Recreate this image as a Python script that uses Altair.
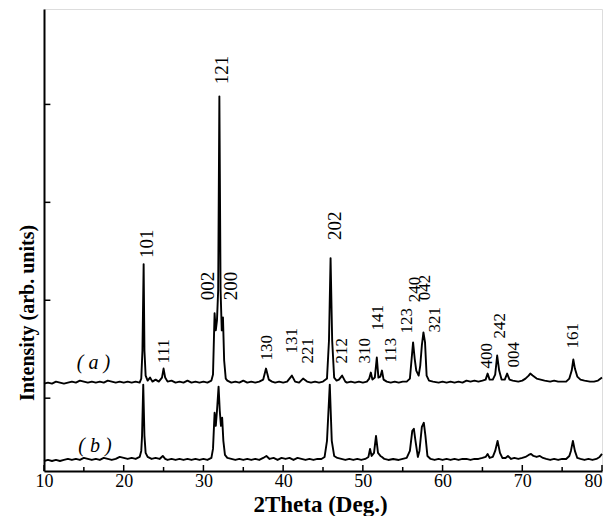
import altair as alt
import pandas as pd

# ---------------- data ----------------
# trace (a) : 2theta and intensity (arbitrary units, offset)
a_x = [10.0, 10.5, 11.0, 11.5, 12.0, 12.5, 13.0, 13.5, 14.0, 14.5, 15.0, 15.5, 16.0, 16.5, 17.0, 17.5,
       18.0, 18.5, 19.0, 19.5, 20.0, 20.5, 21.0, 21.5, 22.0, 22.2, 22.35, 22.5, 22.6, 22.75, 23.0, 23.3,
       23.6, 24.0, 24.4, 24.8, 25.0, 25.2, 25.5, 26.0, 26.5, 27.0, 27.5, 28.0, 28.5, 29.0, 29.5, 30.0,
       30.5, 31.0, 31.2, 31.4, 31.55, 31.7, 31.85, 32.0, 32.15, 32.3, 32.45, 32.6, 32.8, 33.0, 33.5,
       34.0, 34.5, 35.0, 35.5, 36.0, 36.5, 37.0, 37.5, 37.85, 38.2, 38.6, 39.0, 39.5, 40.0, 40.5, 41.1,
       41.5, 42.0, 42.5, 43.0, 43.5, 44.0, 44.5, 45.0, 45.5, 45.75, 45.95, 46.15, 46.4, 46.7, 47.0,
       47.4, 47.8, 48.0, 48.5, 49.0, 49.5, 50.0, 50.5, 50.8, 51.0, 51.2, 51.5, 51.75, 51.95, 52.2,
       52.4, 52.6, 53.0, 53.5, 54.0, 54.5, 55.0, 55.5, 55.9, 56.1, 56.3, 56.5, 56.7, 57.0, 57.2, 57.4,
       57.6, 57.8, 58.0, 58.3, 58.8, 59.5, 60.0, 60.5, 61.0, 61.5, 62.0, 62.5, 63.0, 63.5, 64.0, 64.5,
       65.0, 65.4, 65.65, 65.9, 66.3, 66.6, 66.85, 67.1, 67.4, 67.8, 68.1, 68.4, 68.8, 69.5, 70.0,
       70.4, 70.8, 71.0, 71.3, 71.8, 72.3, 72.8, 73.5, 74.0, 74.5, 75.0, 75.5, 75.9, 76.2, 76.4, 76.6,
       76.9, 77.3, 77.8, 78.5, 79.0, 79.5, 80.0]
a_y = [87, 88, 87, 89, 88, 87, 88, 89, 88, 90, 89, 88, 89, 88, 89, 88,
       90, 89, 88, 89, 88, 89, 88, 89, 88, 92, 120, 206, 120, 95, 90, 93,
       89, 91, 89, 93, 102, 93, 89, 90, 88, 89, 88, 90, 88, 89, 88, 89,
       88, 90, 96, 157, 140, 150, 180, 373, 180, 140, 153, 110, 92, 90, 88,
       89, 88, 90, 88, 89, 88, 89, 91, 102, 91, 89, 88, 89, 88, 89, 95,
       89, 88, 92, 89, 88, 89, 88, 89, 92, 130, 212, 130, 93, 90, 91,
       95, 89, 88, 89, 88, 89, 88, 89, 92, 98, 91, 93, 113, 93, 94,
       100, 91, 89, 88, 89, 88, 89, 89, 92, 110, 128, 112, 100, 95, 105, 125,
       138, 128, 95, 90, 89, 88, 89, 88, 89, 88, 89, 88, 90, 89, 90, 89,
       90, 91, 97, 91, 91, 96, 115, 100, 91, 91, 97, 91, 90, 89, 90,
       92, 95, 97, 95, 92, 91, 90, 89, 90, 89, 89, 89, 92, 100, 111, 102,
       94, 91, 90, 89, 89, 90, 93]

# trace (b)
b_x = [10.0, 10.5, 11.0, 11.5, 12.0, 12.5, 13.0, 13.5, 14.0, 14.5, 15.0, 15.5, 16.0, 16.5, 17.0, 17.5,
       18.0, 18.5, 19.0, 19.5, 20.0, 20.5, 21.0, 21.5, 22.0, 22.2, 22.3, 22.45, 22.6, 22.75, 23.0, 23.5,
       24.0, 24.5, 24.9, 25.2, 25.5, 26.0, 26.5, 27.0, 27.5, 28.0, 28.5, 29.0, 29.5, 30.0, 30.5, 31.0,
       31.2, 31.4, 31.55, 31.7, 31.9, 32.05, 32.2, 32.35, 32.5, 32.7, 33.0, 33.5, 34.0, 34.5, 35.0,
       35.5, 36.0, 36.5, 37.0, 37.5, 37.9, 38.3, 38.8, 39.3, 39.8, 40.3, 40.8, 41.3, 41.8, 42.3, 42.8,
       43.3, 43.8, 44.3, 44.8, 45.2, 45.5, 45.85, 46.1, 46.4, 46.8, 47.3, 47.8, 48.3, 48.8, 49.3, 49.8,
       50.3, 50.7, 50.9, 51.1, 51.4, 51.65, 51.9, 52.2, 52.4, 52.7, 53.2, 53.8, 54.5, 55.0, 55.5, 55.9,
       56.2, 56.4, 56.6, 56.9, 57.1, 57.4, 57.65, 57.85, 58.1, 58.5, 59.0, 59.5, 60.0, 60.5, 61.0, 61.5,
       62.0, 62.5, 63.0, 63.5, 64.0, 64.5, 65.0, 65.4, 65.65, 65.9, 66.3, 66.6, 66.9, 67.2, 67.5, 67.9,
       68.2, 68.6, 69.0, 69.5, 70.0, 70.4, 70.8, 71.1, 71.4, 71.8, 72.2, 72.6, 73.0, 73.5, 74.0, 74.5,
       75.0, 75.5, 75.9, 76.1, 76.35, 76.6, 76.9, 77.3, 77.8, 78.3, 78.8, 79.3, 79.7, 80.0]
b_y = [10, 11, 10, 11, 10, 11, 12, 11, 12, 11, 13, 12, 11, 12, 11, 13,
       12, 11, 12, 14, 13, 12, 13, 12, 14, 20, 35, 86, 35, 18, 14, 12,
       13, 12, 15, 12, 11, 12, 11, 12, 11, 12, 11, 12, 11, 12, 11, 13,
       22, 58, 45, 60, 84, 60, 45, 53, 30, 16, 13, 12, 11, 12, 11,
       12, 11, 12, 11, 13, 15, 12, 13, 11, 13, 12, 13, 11, 13, 12, 11,
       12, 11, 12, 12, 14, 30, 86, 30, 15, 13, 12, 11, 12, 11, 12, 11,
       12, 14, 22, 15, 18, 35, 18, 15, 14, 12, 11, 12, 11, 12, 13, 20,
       40, 42, 30, 14, 20, 44, 48, 35, 15, 12, 11, 12, 11, 12, 11, 12,
       11, 12, 12, 11, 12, 12, 13, 14, 17, 13, 14, 20, 30, 18, 13, 13,
       15, 12, 13, 12, 13, 14, 16, 17, 15, 14, 15, 13, 12, 11, 12, 11,
       12, 12, 15, 20, 30, 20, 13, 12, 11, 12, 11, 12, 14, 17]

# Miller-index peak labels (anchor = bottom of the upright text)
big_labels = ["101", "121", "002", "200", "202"]
big_label_x = [22.9, 32.3, 30.6, 33.45, 46.5]
big_label_y = [212, 385, 170, 170, 230]

small_labels = ["111", "130", "131", "221", "212", "310", "141", "113", "123",
                "240", "042", "321", "400", "242", "004", "161"]
small_label_x = [25.06, 37.98, 41.12, 43.12, 47.39, 50.28, 51.91, 53.54, 55.55,
                 56.55, 57.81, 59.06, 65.58, 67.21, 68.97, 76.37]
small_label_y = [107, 110, 117, 107, 107, 107, 140, 108, 137,
                 168, 170, 138, 102, 132, 103, 122]

trace_names = ["( a )", "( b )"]
trace_name_x = [16.2, 16.4]
trace_name_y = [108, 25]

x_tick_values = [10, 20, 30, 40, 50, 60, 70, 80]
x_minor_ticks = [15, 25, 35, 45, 55, 65, 75]
y_tick_values = [72.5, 170, 267.5, 365]

x_title = "2Theta (Deg.)"
y_title = "Intensity (arb. units)"

# ---------------- chart ----------------
FONT = "Liberation Serif"
W, H = 558, 462
xs = alt.Scale(domain=[10, 80], nice=False, zero=False)
ys = alt.Scale(domain=[0, 460], nice=False, zero=False)

x_axis = alt.Axis(values=x_tick_values, format="d", grid=False, ticks=False, tickSize=0,
                  labelFont=FONT, labelFontSize=18, labelColor="black", labelPadding=1,
                  labelFlush=False,
                  labelAlign=alt.expr("datum.value == 80 ? 'right' : 'center'"),
                  domain=True, domainColor="black", domainWidth=2,
                  title=x_title, titleFont=FONT, titleFontSize=23, titleFontWeight="bold",
                  titleColor="black", titleX=276, titleY=40, titleAlign="center",
                  titleBaseline="alphabetic")
y_axis = alt.Axis(labels=False, ticks=False, tickSize=0, grid=False,
                  domain=True, domainColor="black", domainWidth=2, title=None)


def X(field="x"):
    return alt.X(f"{field}:Q", scale=xs, axis=x_axis)


def Y(field="y"):
    return alt.Y(f"{field}:Q", scale=ys, axis=y_axis)


traces = pd.concat([
    pd.DataFrame({"x": a_x, "y": a_y, "series": "a", "i": range(len(a_x))}),
    pd.DataFrame({"x": b_x, "y": b_y, "series": "b", "i": range(len(b_x))}),
])

lines = alt.Chart(traces).mark_line(color="black", strokeWidth=1.9, strokeJoin="round").encode(
    x=X(), y=Y(), detail="series:N", order="i:Q")

xt = pd.DataFrame({"x": x_tick_values + x_minor_ticks, "y": 0,
                   "y2": [6] * len(x_tick_values) + [4] * len(x_minor_ticks)})
x_ticks = alt.Chart(xt).mark_rule(color="black", strokeWidth=1.5).encode(
    x=X(), y=Y(), y2="y2:Q")

yt = pd.DataFrame({"y": y_tick_values, "x": 10, "x2": 10.8})
y_ticks = alt.Chart(yt).mark_rule(color="black", strokeWidth=1.5).encode(
    x=X(), x2="x2:Q", y=Y())

big_df = pd.DataFrame({"label": big_labels, "x": big_label_x, "y": big_label_y})
big_text = alt.Chart(big_df).mark_text(angle=270, align="left", baseline="middle", font=FONT,
                                       fontSize=19, color="black").encode(
    x=X(), y=Y(), text="label:N")

small_df = pd.DataFrame({"label": small_labels, "x": small_label_x, "y": small_label_y})
small_text = alt.Chart(small_df).mark_text(angle=270, align="left", baseline="middle", font=FONT,
                                           fontSize=17, color="black").encode(
    x=X(), y=Y(), text="label:N")

name_df = pd.DataFrame({"label": trace_names, "x": trace_name_x, "y": trace_name_y})
name_text = alt.Chart(name_df).mark_text(align="center", baseline="middle", font=FONT,
                                         fontStyle="italic", fontSize=20, color="black").encode(
    x=X(), y=Y(), text="label:N")

# y-axis title beside the axis, centred somewhat below the middle as in the original
ytitle = alt.Chart(pd.DataFrame({"t": [y_title]})).mark_text(
    angle=270, align="center", baseline="alphabetic", font=FONT, fontSize=20,
    fontWeight="bold", color="black").encode(
    x=alt.value(-10), y=alt.value(304), text="t:N")

chart = alt.layer(lines, x_ticks, y_ticks, big_text, small_text, name_text, ytitle).properties(
    width=W, height=H,
    autosize=alt.AutoSizeParams(type="none"),
    padding={"left": 44, "top": 9, "right": 1, "bottom": 45},
).configure_view(stroke="black", strokeWidth=1.5).configure(background="white")

chart.save("out.html", embed_options={"renderer": "svg", "actions": False})
